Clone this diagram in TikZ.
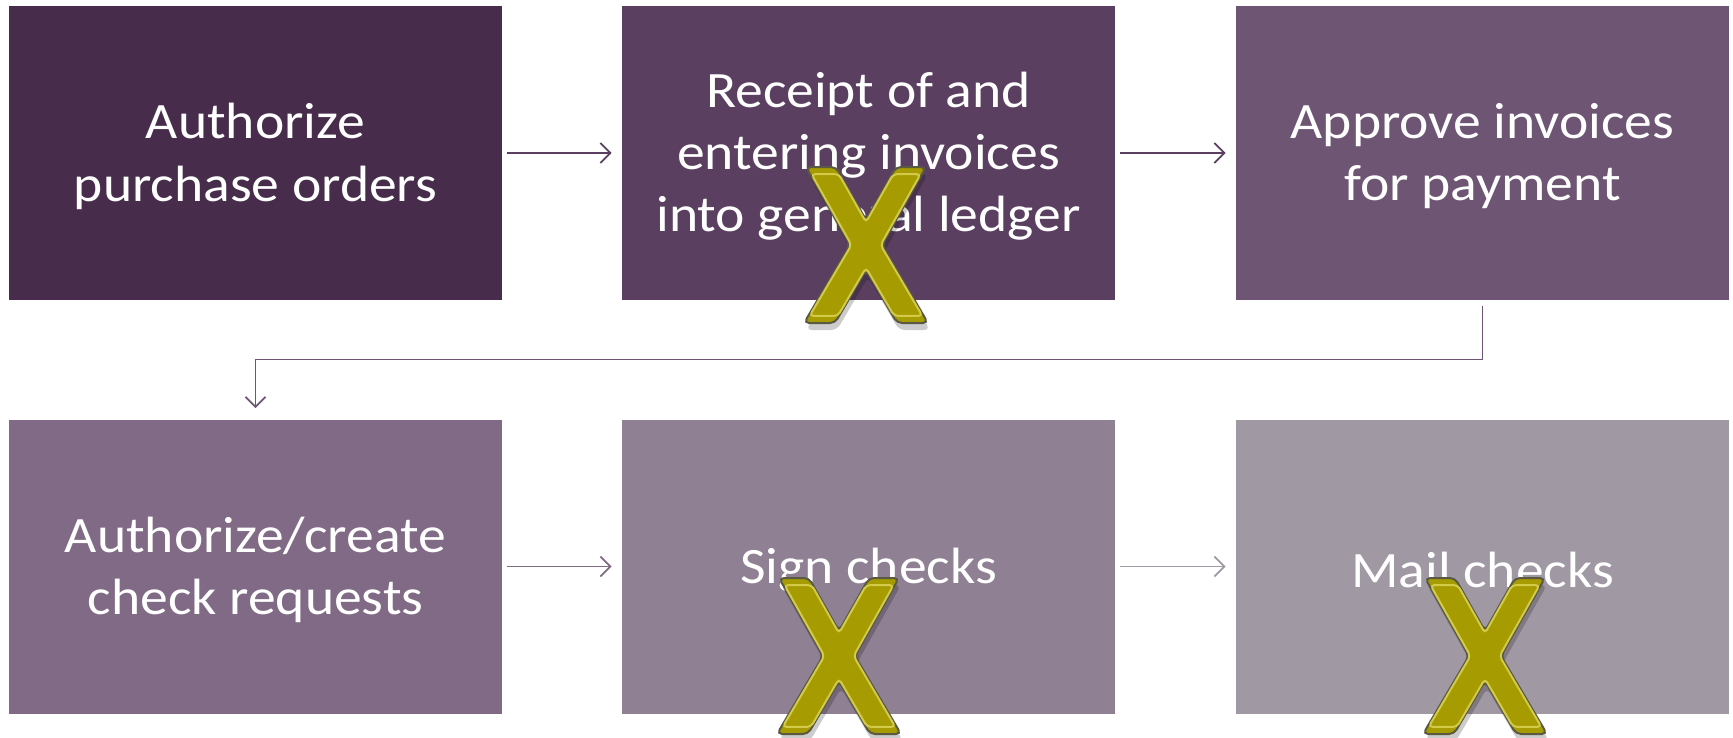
\documentclass[tikz,border=0pt]{standalone}
\usepackage{fontspec}
\setmainfont{Carlito}[FakeStretch=1.09]
\usetikzlibrary{arrows.meta,calc}
\definecolor{c1}{HTML}{472D4B}
\definecolor{c2}{HTML}{5B3F61}
\definecolor{c3}{HTML}{6E5573}
\definecolor{c4}{HTML}{816A85}
\definecolor{c5}{HTML}{8F8094}
\definecolor{c6}{HTML}{A098A3}
\definecolor{xgold}{HTML}{A69B00}
\definecolor{xedge}{HTML}{5A5A44}
\definecolor{xlight}{HTML}{D2CA48}
\newcommand\myxshape{(-60,-78) -- (-30,-78) -- (0,-25) -- (30,-78) -- (60,-78) -- (16,0) -- (62,78) -- (31,78) -- (0,25) -- (-31,78) -- (-62,78) -- (-16,0) -- cycle}
\tikzset{
  box/.style={rectangle, minimum width=246.5pt, minimum height=147pt, inner sep=0pt},
  txt/.style={inner sep=0pt, text=white, align=center, font=\fontsize{25.5}{31.1}\selectfont},
  arr/.style={line width=0.9pt, -{Straight Barb[length=5pt,width=10pt,line width=0.9pt]}},
  xmk/.pic={
    \fill[black,opacity=0.2,shift={(2,7)},rounded corners=3pt] \myxshape;
    \filldraw[fill=xgold, draw=xedge, line width=1pt, rounded corners=2.5pt] \myxshape;
    \draw[xlight, line width=1pt, rounded corners=2pt, scale=0.91] \myxshape;
  }
}
\begin{document}
\begin{tikzpicture}[x=0.5pt,y=-0.5pt]
\useasboundingbox (0,0) rectangle (1733,738);
\node[box, fill=c1] (b1) at (255.5,153) {};
\node[box, fill=c2] (b2) at (868.5,153) {};
\node[box, fill=c3] (b3) at (1482.5,153) {};
\node[box, fill=c4] (b4) at (255.5,566.5) {};
\node[box, fill=c5] (b5) at (868.5,566.5) {};
\node[box, fill=c6] (b6) at (1482.5,566.5) {};
\node[txt] (t1) at ([yshift=-1.7pt]b1.center) {Authorize\\purchase orders};
\node[txt] (t2) at ([yshift=-1.7pt]b2.center) {Receipt of and\\entering invoices\\into general ledger};
\node[txt] (t3) at ([yshift=-1.7pt]b3.center) {Approve invoices\\for payment};
\node[txt] (t4) at ([yshift=-1.7pt]b4.center) {Authorize/create\\check requests};
\node[txt] (t5) at ([yshift=-1.7pt]b5.center) {Sign checks};
\node[txt] (t6) at ([yshift=-1.7pt]b6.center) {Mail checks};
\draw[arr, draw=c2, shorten <=2.5pt, shorten >=5pt] (b1) -- (b2);
\draw[arr, draw=c2, shorten <=2.5pt, shorten >=5pt] (b2) -- (b3);
\draw[arr, draw=c3, shorten <=3pt, shorten >=5.5pt] (b3.south) -- ++(0,59) -| (b4.north);
\draw[arr, draw=c4, shorten <=2.5pt, shorten >=5pt] (b4) -- (b5);
\draw[arr, draw=c6, shorten <=2.5pt, shorten >=5pt] (b5) -- (b6);
\pic at (866,245) {xmk};
\pic at (839,656) {xmk};
\pic at (1485,656) {xmk};
\end{tikzpicture}
\end{document}
